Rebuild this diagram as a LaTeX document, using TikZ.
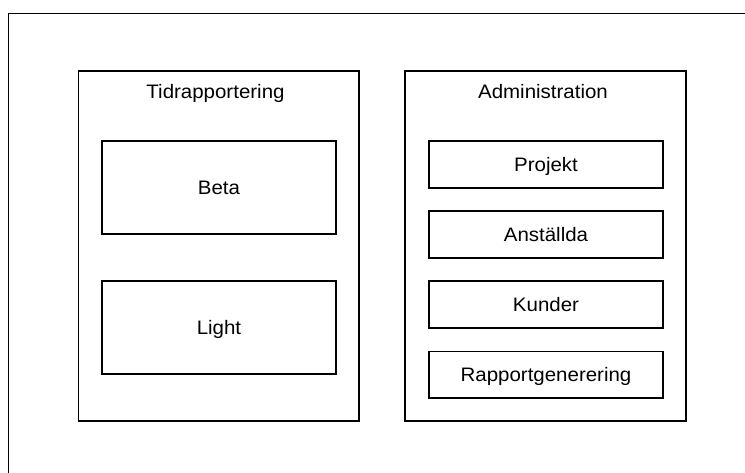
\documentclass[tikz,border=0pt]{standalone}
\usepackage{fontspec}
\setmainfont{Liberation Sans}[FakeStretch=1.05]
\begin{document}
\begin{tikzpicture}[x=1pt,y=-1pt,
  font=\fontsize{19.5}{23}\selectfont,
  frameline/.style={draw=black, line width=1.8pt},
  group/.style={draw=black, line width=1.7pt, rectangle, inner sep=0pt},
  item/.style={draw=black, line width=1.6pt, rectangle, inner sep=0pt,
    text height=14pt, text depth=0pt},
  title/.style={anchor=base, inner sep=0pt}]
\useasboundingbox (0,0) rectangle (745,473);
% outer frame (right and bottom edges lie outside the picture)
\draw[frameline] (8.5,473) |- (745,13.5);
% groups
\node[group, minimum width=280.5pt, minimum height=350pt] (tid) at (218.75,246) {};
\node[group, minimum width=281pt, minimum height=350pt] (adm) at (545.5,246) {};
\node[title] (tidt) at (215.5,98.3) {Tidrapportering};
\node[title] (admt) at (543,98.3) {Administration};
% Tidrapportering items
\node[item, minimum width=234pt, minimum height=93pt] (beta) at (219,187.5) {Beta};
\node[item, minimum width=234pt, minimum height=93pt] (light) at (219,327.5) {Light};
% Administration items
\node[item, minimum width=234pt, minimum height=46.5pt] (proj) at (546,164.5) {Projekt};
\node[item, minimum width=234pt, minimum height=46.5pt] (anst) at (546,234.5) {Anställda};
\node[item, minimum width=234pt, minimum height=46.5pt] (kund) at (546,304.5) {Kunder};
\node[item, minimum width=234pt, minimum height=46.5pt] (rapp) at (546,374.7) {Rapportgenerering};
\end{tikzpicture}
\end{document}
